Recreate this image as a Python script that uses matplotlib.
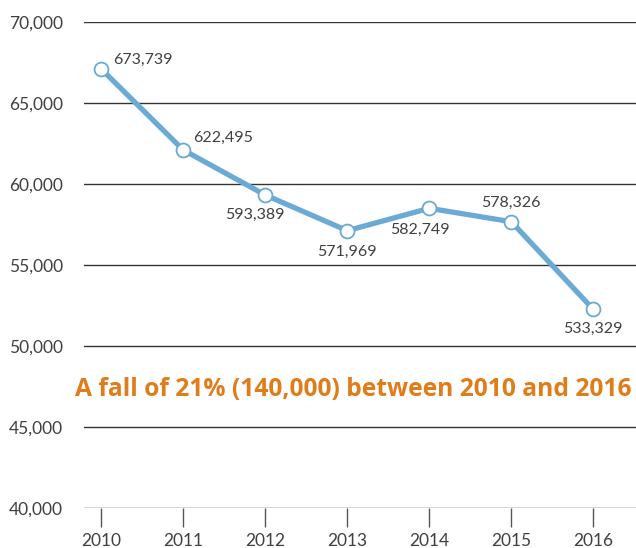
import matplotlib
matplotlib.use('Agg')
import matplotlib.pyplot as plt

years = [2010, 2011, 2012, 2013, 2014, 2015, 2016]
# plotted heights
values = [67100, 62100, 59320, 57120, 58500, 57670, 52260]
labels = ['673,739', '622,495', '593,389', '571,969', '582,749', '578,326', '533,329']
label_offsets = [(12, 9), (10, 12), (-10, -20), (0, -21), (-9, -22), (0, 19), (0, -20)]
label_align = ['left', 'left', 'center', 'center', 'center', 'center', 'center']
yticks = [40000, 45000, 50000, 55000, 60000, 65000, 70000]

plt.rcParams['font.family'] = ['Lato', 'DejaVu Sans']
text_color = '#404040'
line_color = '#6aaad4'
orange = '#e07d1a'

fig = plt.figure(figsize=(6.36, 5.48), dpi=100)
ax = fig.add_axes([84 / 636, 1 - 508 / 548, 1 - 84 / 636, (508 - 22) / 548])

for y in yticks:
    ax.axhline(y, color='#333333', linewidth=1.0, zorder=1)

ax.plot(years, values, color=line_color, linewidth=3.8, marker='o', markersize=10,
        markerfacecolor='white', markeredgecolor=line_color, markeredgewidth=1.3,
        solid_capstyle='round', zorder=3)

for x, y, lab, off, ha in zip(years, values, labels, label_offsets, label_align):
    ax.annotate(lab, (x, y), xytext=off, textcoords='offset pixels', ha=ha,
                va='center', fontsize=11.5, color=text_color)

ax.set_xlim(2009.79, 2016.52)
ax.set_ylim(40000, 70000)
ax.set_xticks(years)
ax.set_xticklabels([str(y) for y in years])
ax.set_yticks(yticks)
ax.set_yticklabels(['{:,}'.format(y) for y in yticks])

for s in ax.spines.values():
    s.set_visible(False)
ax.tick_params(axis='y', length=0, pad=15, labelsize=12.5, labelcolor=text_color)
ax.tick_params(axis='x', direction='out', length=14, width=1, color='#555555',
               pad=4, labelsize=12.5, labelcolor=text_color)

fig.text(353 / 636, 1 - 389 / 548, 'A fall of 21% (140,000) between 2010 and 2016',
         ha='center', va='center', fontsize=17.7, fontweight='bold', color=orange,
         family=['Open Sans', 'DejaVu Sans'])

fig.savefig('out.png', dpi=100)
